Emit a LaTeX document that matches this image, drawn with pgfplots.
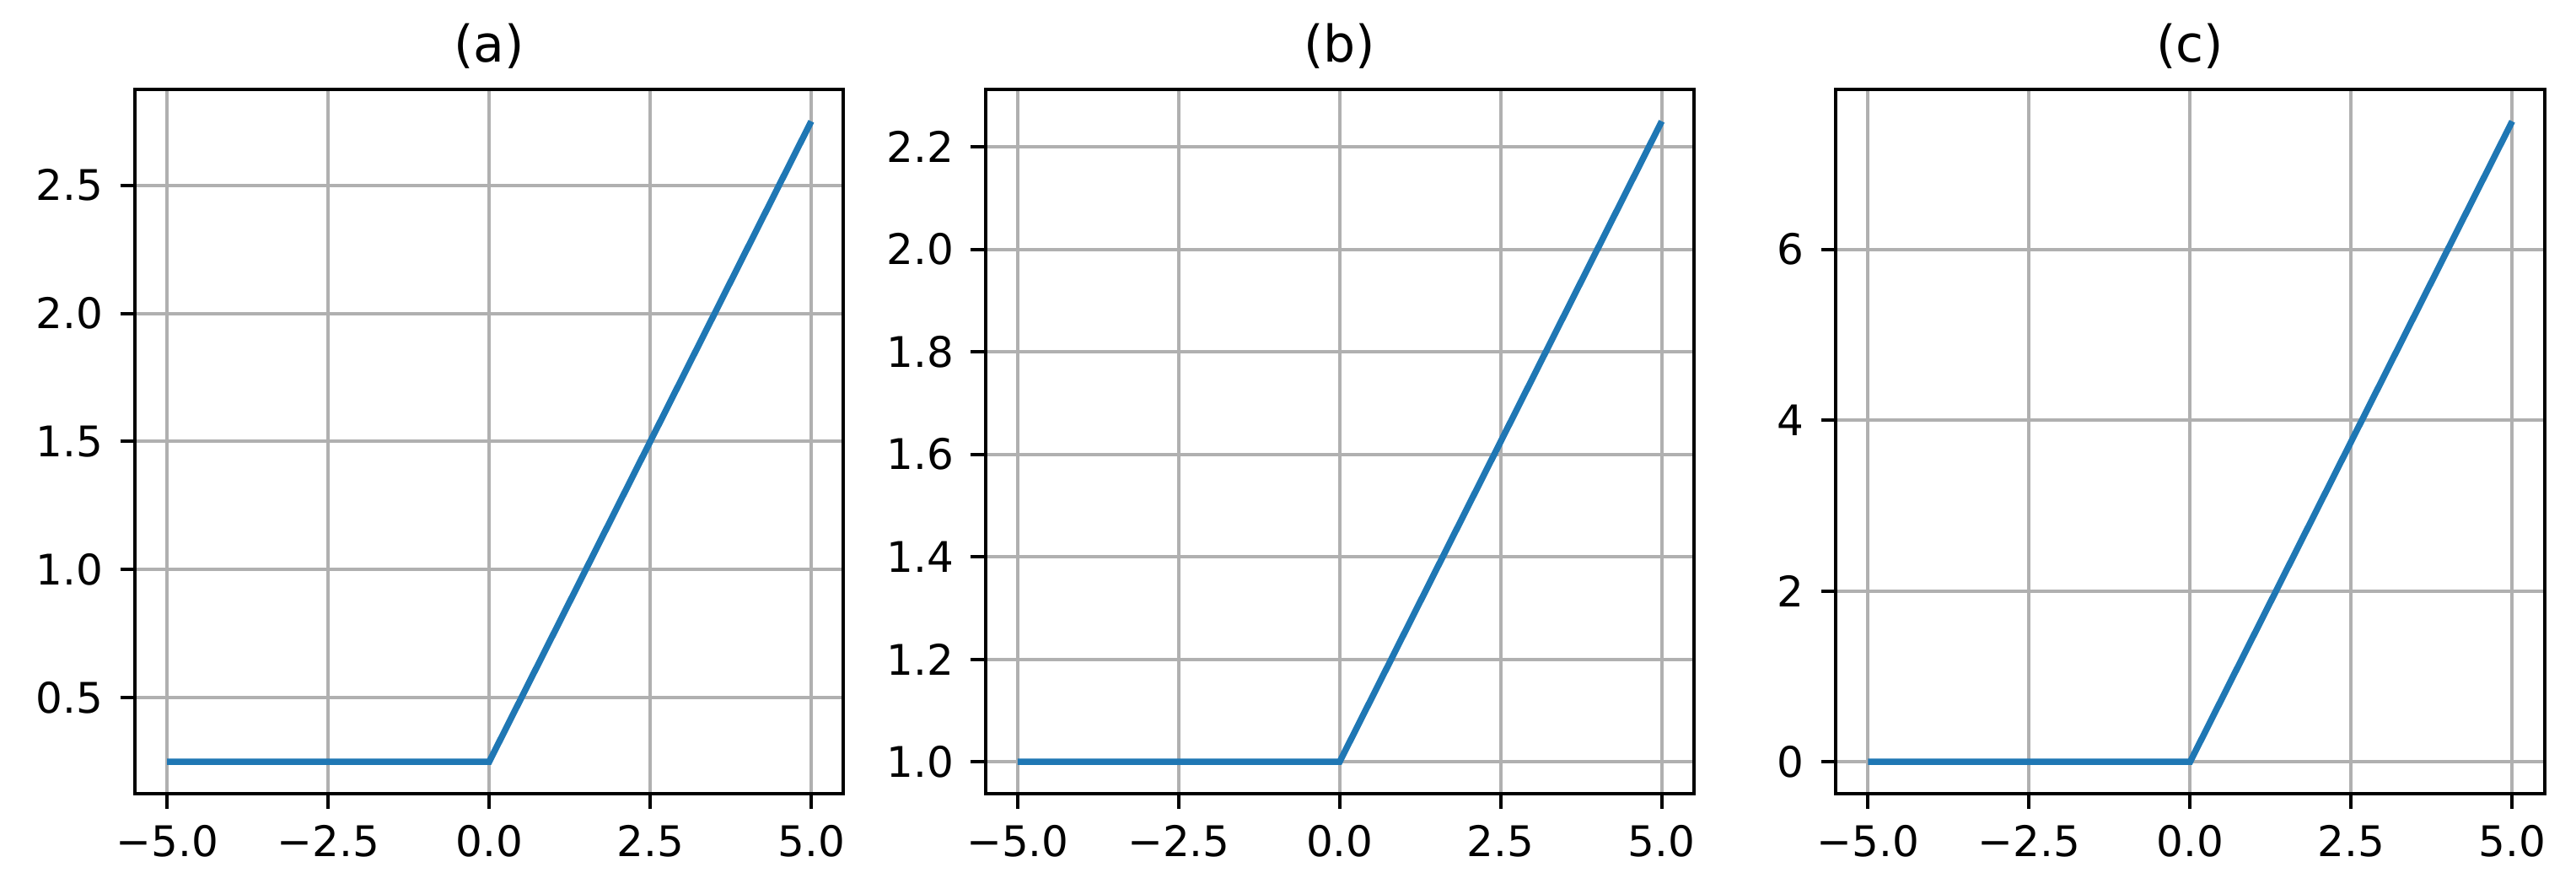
\documentclass[border=0pt]{standalone}
\usepackage{fontspec}
\setmainfont{DejaVu Sans}
\usepackage{pgfplots}
\pgfplotsset{compat=1.18}
\definecolor{tabblue}{HTML}{1F77B4}
\definecolor{gridgray}{HTML}{B0B0B0}
\pgfplotsset{
  panel/.style={
    scale only axis,
    width=201.6pt, height=200.4pt,
    anchor=south west,
    xmin=-5.5, xmax=5.5,
    axis line style={black, line width=0.96pt},
    tick style={black, line width=0.96pt},
    major tick length=4.2pt,
    tick align=outside,
    tick pos=left,
    grid=major,
    major grid style={gridgray, line width=0.96pt},
    xtick={-5,-2.5,0,2.5,5},
    xticklabels={−5.0,−2.5,0.0,2.5,5.0},
    tick label style={font=\fontsize{12}{14}\selectfont},
    xticklabel style={anchor=north, inner sep=0pt, yshift=-4.6pt},
    yticklabel style={anchor=east, inner sep=0pt, xshift=-4.6pt},
    /pgf/number format/assume math mode=true,
    title style={font=\fontsize{14.4}{17}\selectfont, at={(0.5,1)}, anchor=base, inner sep=0pt, yshift=1.7pt},
  }
}
\begin{document}
\begin{tikzpicture}
\path[use as bounding box] (-38.4pt,-26.9pt) rectangle (694.6pt,225.8pt);
\begin{axis}[panel, at={(0pt,0pt)}, title={(a)},
  ymin=0.125, ymax=2.875,
  ytick={0.5,1.0,1.5,2.0,2.5},
  yticklabels={0.5,1.0,1.5,2.0,2.5}]
\addplot[tabblue, line width=1.8pt] coordinates {(-5,0.25) (0,0.25) (5,2.75)};
\end{axis}
\begin{axis}[panel, at={(242.0pt,0pt)}, title={(b)},
  ymin=0.9375, ymax=2.3125,
  ytick={1.0,1.2,1.4,1.6,1.8,2.0,2.2},
  yticklabels={1.0,1.2,1.4,1.6,1.8,2.0,2.2}]
\addplot[tabblue, line width=1.8pt] coordinates {(-5,1) (0,1) (5,2.25)};
\end{axis}
\begin{axis}[panel, at={(484.0pt,0pt)}, title={(c)},
  ymin=-0.375, ymax=7.875,
  ytick={0,2,4,6},
  yticklabels={0,2,4,6}]
\addplot[tabblue, line width=1.8pt] coordinates {(-5,0) (0,0) (5,7.5)};
\end{axis}
\end{tikzpicture}
\end{document}
